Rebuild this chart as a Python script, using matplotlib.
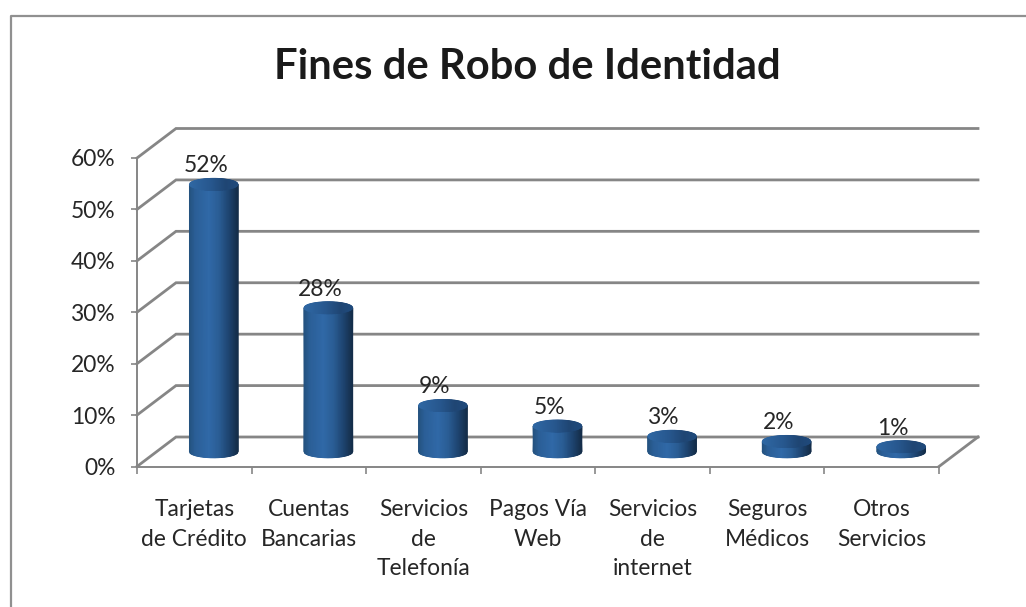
import numpy as np
import matplotlib
matplotlib.use("Agg")
import matplotlib.pyplot as plt
from matplotlib.colors import LinearSegmentedColormap
from matplotlib.transforms import IdentityTransform

categorias = ["Tarjetas\nde Crédito", "Cuentas\nBancarias", "Servicios\nde\nTelefonía",
              "Pagos Vía\nWeb", "Servicios\nde\ninternet", "Seguros\nMédicos", "Otros\nServicios"]
valores = [52, 28, 9, 5, 3, 2, 1]
etiquetas = ["52%", "28%", "9%", "5%", "3%", "2%", "1%"]
ticks_y = [0, 10, 20, 30, 40, 50, 60]
gris = "#868686"
texto = "#262626"

W, H = 1026, 607
plt.rcParams["font.family"] = ["Lato", "DejaVu Sans"]

fig = plt.figure(figsize=(W / 100, H / 100), dpi=100, facecolor="white")
# marco del grafico
fig.add_artist(plt.Line2D([10.5 / W, 10.5 / W, 1026 / W], [0, 1 - 15.5 / H, 1 - 15.5 / H],
                          color="#909090", lw=1.6))

# pared frontal en pixeles
x0, x1, y0, y1 = 137, 939, 466.5, 158
ax = fig.add_axes([x0 / W, 1 - y0 / H, (x1 - x0) / W, (y0 - y1) / H])
ax.set_xlim(0, 7)
ax.set_ylim(0, 60)
ax.patch.set_alpha(0)
for s in ["top", "right"]:
    ax.spines[s].set_visible(False)
for s in ["left", "bottom"]:
    ax.spines[s].set_color(gris)
    ax.spines[s].set_linewidth(1.4)

ax.set_yticks(ticks_y)
ax.set_yticklabels([f"{t}%" for t in ticks_y], fontsize=16.4, color=texto)
ax.set_xticks(range(8))
ax.set_xticks(np.arange(7) + 0.5, minor=True)
ax.set_xticklabels([])
ax.set_xticklabels(categorias, minor=True, fontsize=16.4, color=texto, linespacing=1.5)
ax.tick_params(axis="x", which="major", length=5, width=1.2, color=gris)
ax.tick_params(axis="x", which="minor", length=0, pad=23.5)
ax.tick_params(axis="y", length=4, width=1.2, color=gris, pad=11.5)

# profundidad 3D en pixeles
dx, dy = 39, 29.5
ident = IdentityTransform()


def px(x, y):
    return ax.transData.transform((x, y))


for t in ticks_y:
    a = px(0, t)
    b = px(7, t)
    ax.plot([a[0], a[0] + dx, b[0] + dx], [a[1], a[1] + dy, b[1] + dy], transform=ident,
            color=gris, lw=2.0, clip_on=False, solid_joinstyle="miter", zorder=1)
a = px(7, 0)
ax.plot([a[0], a[0] + dx], [a[1], a[1] + dy], transform=ident, color=gris, lw=2.0,
        clip_on=False, zorder=1)

cuerpo = LinearSegmentedColormap.from_list("cuerpo", [
    (0.0, "#24527f"), (0.12, "#2b5f97"), (0.4, "#3069a8"), (0.62, "#2a5d94"),
    (0.82, "#1e4470"), (1.0, "#142d49")])
tapa = LinearSegmentedColormap.from_list("tapa", [
    (0.0, "#2f68a4"), (0.45, "#27578e"), (0.75, "#1f4674"), (1.0, "#1f4a7c")])

rx, ry = 24.3, 6
n = 60
for i, v in enumerate(valores):
    base = px(i + 0.5, 0)
    top = px(i + 0.5, v)
    cx = base[0] + dx / 2
    yb = base[1] + dy / 2
    yt = top[1] + dy / 2
    u = np.linspace(-1, 1, n)
    curva = ry * np.sqrt(1 - u ** 2)
    X = np.vstack([cx + rx * u, cx + rx * u])
    Y = np.vstack([yb - curva, yt - curva])
    C = np.vstack([(u + 1) / 2, (u + 1) / 2])
    ax.pcolormesh(X, Y, C, cmap=cuerpo, shading="gouraud", transform=ident,
                  clip_on=False, zorder=3, vmin=0, vmax=1)
    # tapa
    X2 = np.vstack([cx + rx * u, cx + rx * u])
    Y2 = np.vstack([yt - curva, yt + curva])
    C2 = np.vstack([(u + 1) / 2, (u + 1) / 2])
    ax.pcolormesh(X2, Y2, C2, cmap=tapa, shading="gouraud", transform=ident,
                  clip_on=False, zorder=4, vmin=0, vmax=1)
    ax.annotate(etiquetas[i], (i + 0.5, v), xycoords="data",
                xytext=(dx / 2 - 8, dy / 2 + 18.5), textcoords="offset pixels",
                ha="center", va="center", fontsize=16.4, color=texto, zorder=5,
                annotation_clip=False)

fig.text(527 / W, 1 - 67 / H, "Fines de Robo de Identidad", ha="center", va="center",
         fontsize=30.1, fontweight="bold", color="#1a1a1a")

fig.savefig("out.png", dpi=100)
